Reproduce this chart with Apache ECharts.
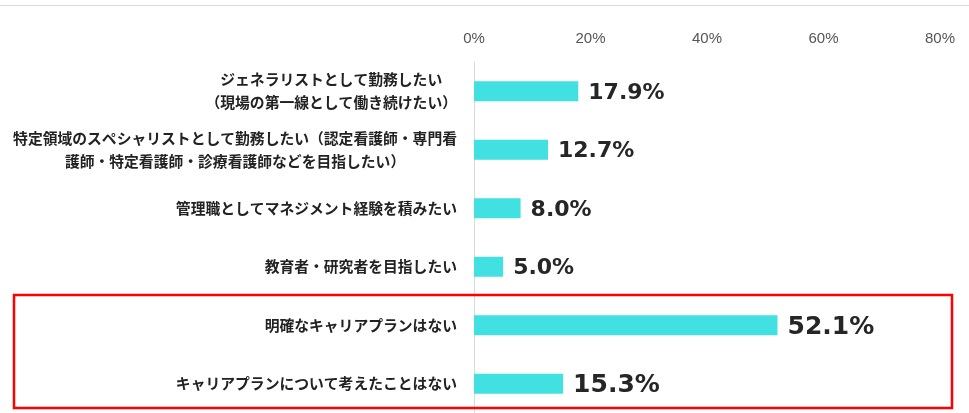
<!DOCTYPE html>
<html><head><meta charset="utf-8">
<script src="https://cdn.jsdelivr.net/npm/echarts@6/dist/echarts.min.js"></script>
<style>html,body{margin:0;padding:0;background:#fff}#c{width:969px;height:413px}</style>
</head><body><div id="c"></div>
<script>
const categories = [
  "ジェネラリストとして勤務したい\n（現場の第一線として働き続けたい）",
  "特定領域のスペシャリストとして勤務したい（認定看護師・専門看\n護師・特定看護師・診療看護師などを目指したい）",
  "管理職としてマネジメント経験を積みたい",
  "教育者・研究者を目指したい",
  "明確なキャリアプランはない",
  "キャリアプランについて考えたことはない"
];
const values = [17.9, 12.7, 8.0, 5.0, 52.1, 15.3];
const highlighted = [false, false, false, false, true, true];
const tickLabels = ["0%", "20%", "40%", "60%", "80%"];

const chart = echarts.init(document.getElementById('c'), null, {renderer: 'canvas'});
const jp = '"Noto Sans CJK JP", "Noto Sans", sans-serif';
chart.setOption({
  animation: false,
  backgroundColor: '#fff',
  grid: {left: 474, right: 29, top: 62, bottom: -1, containLabel: false},
  xAxis: {
    type: 'value', position: 'top', min: 0, max: 80, interval: 20,
    axisLine: {show: false}, axisTick: {show: false}, splitLine: {show: false},
    axisLabel: {
      margin: 16, color: '#555', fontSize: 15,
      fontFamily: '"Liberation Sans", Arial, sans-serif',
      formatter: v => tickLabels[Math.round(v / 20)]
    }
  },
  yAxis: {
    type: 'category', inverse: true, data: categories,
    axisLine: {show: true, lineStyle: {color: '#d9d9d9', width: 1}},
    axisTick: {show: false},
    axisLabel: {
      margin: 17, color: '#222', fontSize: 14.8, fontWeight: 'bold',
      fontFamily: jp, lineHeight: 23,
      formatter: v => v.split('\n').map(s => '{c|' + s + '}').join('\n'),
      rich: {c: {align: 'center', fontSize: 14.8, fontWeight: 'bold', fontFamily: jp, color: '#222', lineHeight: 23}}
    }
  },
  series: [{
    type: 'bar', barWidth: 20,
    data: values.map((v, i) => ({
      value: v,
      label: {fontSize: highlighted[i] ? 25 : 22}
    })),
    itemStyle: {color: '#41E1E1'},
    label: {
      show: true, position: 'right', distance: 10, offset: [0, 2],
      color: '#262626', fontWeight: 'bold',
      fontFamily: '"DejaVu Sans", Verdana, sans-serif',
      formatter: p => p.value.toFixed(1) + '%'
    }
  }],
  graphic: [
    {type: 'line', shape: {x1: 0, y1: 5.5, x2: 969, y2: 5.5}, style: {stroke: '#d9d9d9', lineWidth: 1}, silent: true},
    {type: 'rect', shape: {x: 14, y: 295, width: 938, height: 113}, style: {fill: 'none', stroke: '#ff0000', lineWidth: 2.5}, silent: true, z: 10}
  ]
});
</script>
</body></html>
